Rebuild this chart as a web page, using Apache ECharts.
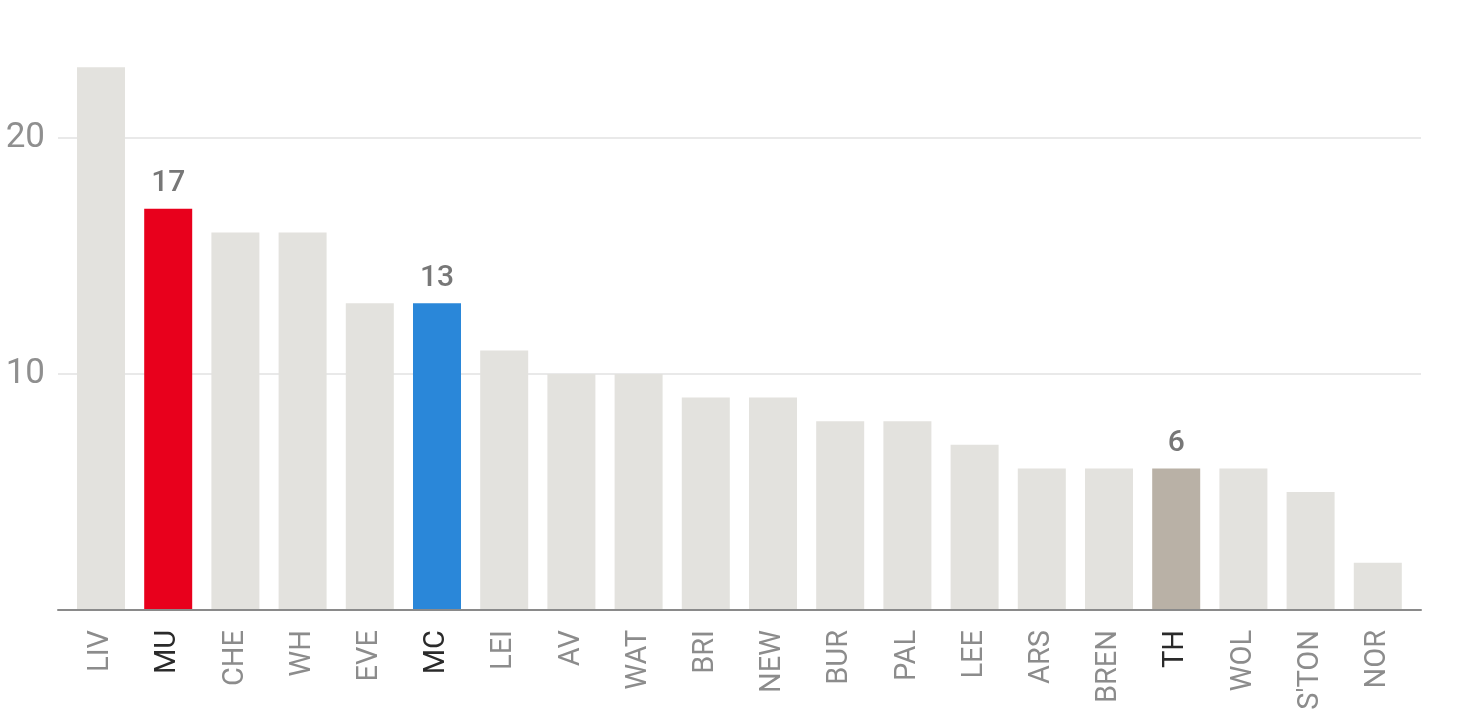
<!DOCTYPE html>
<html><head><meta charset="utf-8">
<script src="https://cdn.jsdelivr.net/npm/echarts@6/dist/echarts.min.js"></script>
<style>html,body{margin:0;padding:0;background:#fff}#c{width:1460px;height:721px}</style>
</head><body><div id="c"></div>
<script>
const categories = ['LIV','MU','CHE','WH','EVE','MC','LEI','AV','WAT','BRI','NEW','BUR','PAL','LEE','ARS','BREN','TH','WOL',"S'TON",'NOR'];
const values = [23,17,16,16,13,13,11,10,10,9,9,8,8,7,6,6,6,6,5,2];
const highlight = {MU:'#e8001c', MC:'#2a87d9', TH:'#b9b1a6'};
const yTickLabels = [10,20];
const yMax = 25;

const chart = echarts.init(document.getElementById('c'));
const FONT = '"Liberation Sans Narrow","Roboto","DejaVu Sans",sans-serif';
chart.setOption({
  animation:false,
  grid:[
    {left:58, right:39, top:20, bottom:111},
    {left:67.4, right:48.6, top:20, bottom:111}
  ],
  xAxis:[
    {type:'category', gridIndex:0, data:[''], axisLine:{lineStyle:{color:'#8a8a8a',width:2}}, axisTick:{show:false}, axisLabel:{show:false}, z:20},
    {type:'category', gridIndex:1, data:categories, axisLine:{show:false}, axisTick:{show:false},
     axisLabel:{rotate:90, margin:20, fontFamily:FONT, fontSize:29,
       color:(v)=> highlight[v] ? '#2a2a2a' : '#8c8c8c'}}
  ],
  yAxis:[
    {type:'value', gridIndex:0, min:0, max:yMax, interval:10,
     axisLine:{show:false}, axisTick:{show:false}, splitLine:{show:false},
     axisLabel:{margin:13, fontFamily:'Roboto,sans-serif', fontSize:35, color:'#8f8f8f',
       formatter:(v)=> yTickLabels.includes(v) ? String(v) : ''}},
    {type:'value', gridIndex:1, min:0, max:yMax, interval:10, show:false, splitLine:{show:false}}
  ],
  series:[{
    type:'line', xAxisIndex:0, yAxisIndex:0, data:[], silent:true, z:1,
    markLine:{silent:true, z:1, symbol:'none', label:{show:false},
      lineStyle:{color:'#e2e2e2', width:1.5, type:'solid'},
      data: yTickLabels.map(v=>({yAxis:v}))}
  },{
    type:'bar', xAxisIndex:1, yAxisIndex:1, barWidth:48, z:10,
    data: values.map((v,i)=>{
      const c = categories[i];
      const o = {value:v, itemStyle:{color: highlight[c] || '#e3e2de'}};
      if (highlight[c]) o.label = {show:true, position:'top', distance:10, fontFamily:'Roboto,sans-serif', fontSize:30, fontWeight:500, color:'#777'};
      return o;
    })
  }]
});
</script></body></html>
